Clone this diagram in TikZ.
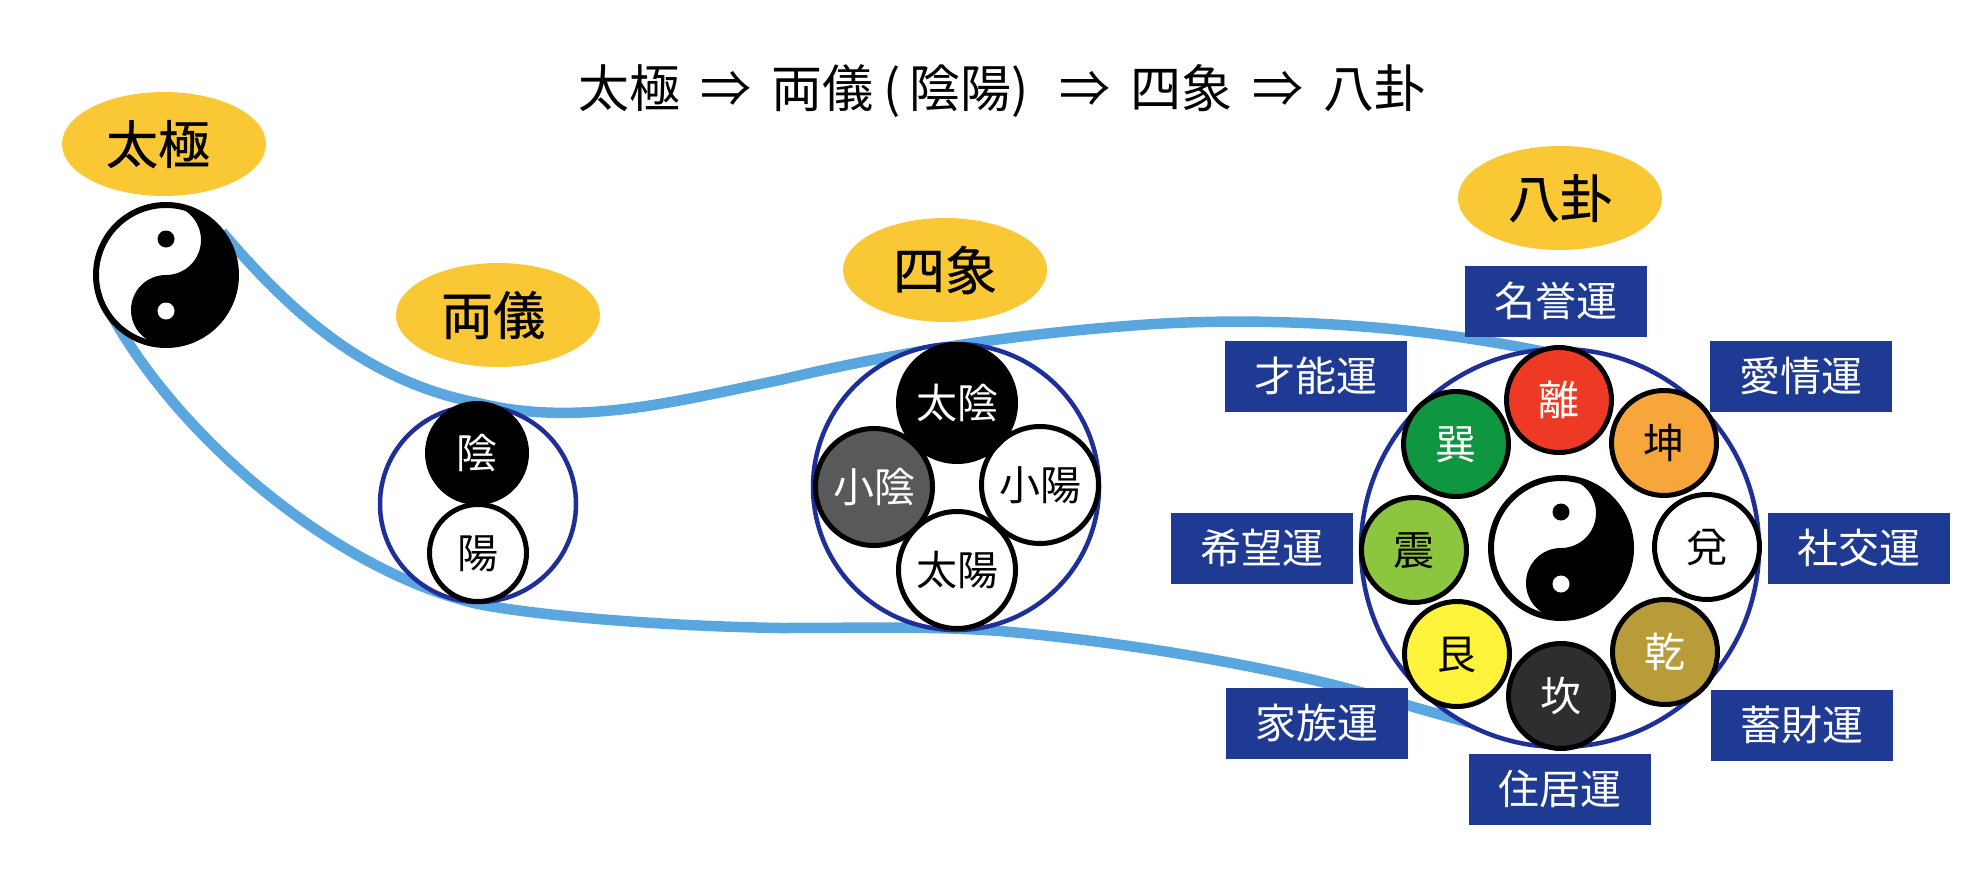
\documentclass[tikz,border=0pt]{standalone}
\usepackage{fontspec}
\usetikzlibrary{shapes.geometric,backgrounds}
\newfontfamily\jpf{Noto Sans CJK JP}
\newfontfamily\jpb[FakeBold=0.6]{Noto Sans CJK JP}
\definecolor{ybg}{HTML}{FBC835}
\definecolor{bandc}{HTML}{5AA7E0}
\definecolor{ringc}{HTML}{1E2F97}
\definecolor{navyc}{HTML}{1F3A93}
\tikzset{
  txt/.style={font=\jpf\fontsize{#1pt}{#1pt}\selectfont,text height={#1*0.88pt},text depth={#1*0.12pt}},
  tag/.style={ellipse,fill=ybg,minimum width=204pt,minimum height=104pt,inner sep=0pt,outer sep=0pt,text=black,font=\jpb\fontsize{52pt}{52pt}\selectfont,text height=45.8pt,text depth=6.2pt},
  ringn/.style={circle,draw=ringc,line width=4.5pt,fill=white,minimum size=#1,inner sep=0pt},
  disc/.style={circle,draw=black,line width=5pt,minimum size=#1,inner sep=0pt,txt=41},
  yy/.style={circle,draw=black,line width=6pt,fill=white,minimum size=140pt,inner sep=0pt},
  fortune/.style={rectangle,fill=navyc,text=white,minimum width=182pt,minimum height=71pt,inner sep=0pt,txt=41},
  band/.style={draw=bandc,line width=10.5pt,line cap=butt},
}
\newcommand\yinyang[1]{%
  \begin{scope}[shift={(#1.center)},y=1pt]
    \fill[black] (0,70) arc[start angle=90,end angle=-90,radius=70]
      arc[start angle=270,end angle=90,radius=35]
      arc[start angle=-90,end angle=90,radius=35] -- cycle;
    \fill[black] (0,36) circle[radius=8.5];
    \fill[white] (0,-36) circle[radius=8.5];
  \end{scope}}
\begin{document}
\begin{tikzpicture}[x=1pt,y=-1pt]
\useasboundingbox (0,0) rectangle (1984,878);
% title
\node[txt=51,inner sep=0pt] (title) at (1002,88) {太極\hspace{20pt}⇒\hspace{20pt}両儀\hspace{10pt}(\hspace{9pt}陰陽)\hspace{30pt}⇒\hspace{20pt}四象\hspace{20pt}⇒\hspace{20pt}八卦};
% tags
\node[tag] (tTaiji) at (164,144) {\hspace{-12pt}太極};
\node[tag] (tRyogi) at (498,315) {\hspace{-10pt}両儀};
\node[tag] (tShisho) at (945,270) {四象};
\node[tag] (tHakke) at (1560,198) {八卦};
% taiji
\node[yy] (taiji) at (166,275) {};
\yinyang{taiji}
% ryogi
\node[ringn=196pt] (ring2) at (478,504) {};
\node[disc=99pt,fill=black,text=white] (in) at (477,453) {陰};
\node[disc=97pt,fill=white,text=black] (yo) at (478,553) {陽};
% shisho
\node[ringn=286pt] (ring4) at (956,487) {};
\node[disc=117pt,fill=white,text=black] (shoyo) at (1040,485) {小陽};
\node[disc=117pt,fill=white,text=black] (taiyo) at (957,570) {太陽};
\node[disc=117pt,fill={rgb,255:red,88;green,89;blue,91},text=white] (shoin) at (874,487) {小陰};
\node[disc=117pt,fill=black,text=white] (taiin) at (957,403) {太陰};
% hakke
\node[ringn=398pt] (ring8) at (1560,548) {};
\node[yy] (taiji8) at (1561,548) {};
\yinyang{taiji8}
\node[disc=105pt,fill={rgb,255:red,238;green,58;blue,36},text=white] (ri) at (1559,400) {離};
\node[disc=105pt,fill={rgb,255:red,246;green,166;blue,58},text=black] (kon) at (1664,443) {坤};
\node[disc=105pt,fill={rgb,255:red,14;green,150;blue,64},text=white] (son) at (1456,444) {巽};
\node[disc=105pt,fill={rgb,255:red,140;green,198;blue,63},text=black] (shin) at (1414,550) {震};
\node[disc=105pt,fill=white,text=black] (da) at (1707,547) {兌};
\node[disc=105pt,fill={rgb,255:red,255;green,243;blue,59},text=black] (gon) at (1457,654) {艮};
\node[disc=105pt,fill={rgb,255:red,185;green,156;blue,58},text=white] (ken) at (1665,652) {乾};
\node[disc=105pt,fill={rgb,255:red,46;green,46;blue,48},text=white] (kan) at (1561,696) {坎};
% fortunes
\node[fortune] (f1) at (1556,301) {名誉運};
\node[fortune] (f2) at (1316,376) {才能運};
\node[fortune] (f3) at (1801,376) {愛情運};
\node[fortune] (f4) at (1262,548) {希望運};
\node[fortune] (f5) at (1859,548) {社交運};
\node[fortune] (f6) at (1317,723) {家族運};
\node[fortune] (f7) at (1802,725) {蓄財運};
\node[fortune] (f8) at (1560,789) {住居運};
% band ends, tucked under the discs they leave and reach
\coordinate (upStart) at (222,232);
\coordinate (upEnd) at (1545,352);
\coordinate (lowStart) at (112,316);
\coordinate (lowEnd) at (1510,732);
% bands
\begin{scope}[on background layer]
\draw[band] (upStart) .. controls (285,305) and (360,380) .. (478,403)
  .. controls (580,428) and (680,400) .. (780,380)
  .. controls (880,356) and (1000,335) .. (1140,325)
  .. controls (1250,317) and (1400,322) .. (upEnd);
\draw[band] (lowStart) .. controls (185,445) and (340,572) .. (478,604)
  .. controls (540,616) and (660,626) .. (780,628)
  .. controls (860,628) and (930,626) .. (1000,631)
  .. controls (1100,640) and (1200,655) .. (1300,677)
  .. controls (1370,692) and (1450,720) .. (lowEnd);
\end{scope}
\end{tikzpicture}
\end{document}
